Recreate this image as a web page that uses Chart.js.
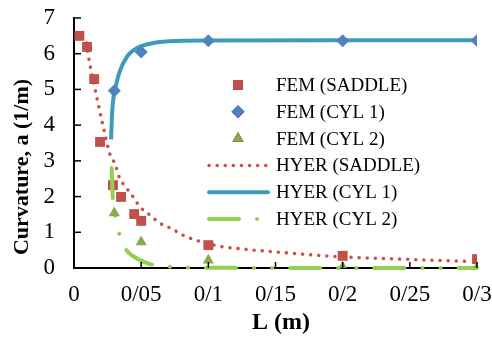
<!DOCTYPE html>
<html>
<head>
<meta charset="utf-8">
<script src="https://cdn.jsdelivr.net/npm/chart.js@4.4.1/dist/chart.umd.min.js"></script>
<style>
  html, body { margin: 0; padding: 0; background: #fff; }
  #wrap { width: 492px; height: 342px; }
</style>
</head>
<body>
<div id="wrap"><canvas id="curvChart" width="492" height="342"></canvas></div>
<script>
// FEM results (markers)
const femSaddleL = [0.004, 0.0097, 0.015, 0.0194, 0.029, 0.035, 0.0448, 0.05, 0.1, 0.2, 0.3];
const femSaddleA = [6.5, 6.19, 5.29, 3.53, 2.32, 1.99, 1.51, 1.32, 0.64, 0.34, 0.25];
const femCyl1L = [0.03, 0.05, 0.1, 0.2, 0.3];
const femCyl1A = [4.96, 6.05, 6.36, 6.36, 6.37];
const femCyl2L = [0.03, 0.05, 0.1, 0.2, 0.3];
const femCyl2A = [1.54, 0.73, 0.22, 0.02, 0.01];

// HYER curves
const hyerSaddleL = [0.0095, 0.0105, 0.0157, 0.0218, 0.0269, 0.0306, 0.0336, 0.0373, 0.042, 0.047, 0.0515, 0.0567, 0.061, 0.0664, 0.0716, 0.077, 0.081, 0.107, 0.126, 0.15, 0.2, 0.25, 0.296];
const hyerSaddleA = [6.3, 6.0, 5.0, 3.95, 3.17, 2.91, 2.55, 2.32, 2.1, 1.82, 1.62, 1.48, 1.34, 1.2, 1.12, 1.01, 0.92, 0.62, 0.53, 0.45, 0.31, 0.24, 0.18];
const hyerCyl1L = [0.0276, 0.0282, 0.029, 0.0306, 0.034, 0.0395, 0.047, 0.059, 0.081, 0.1, 0.2, 0.3];
const hyerCyl1A = [3.6, 4.2, 4.65, 5.0, 5.5, 5.92, 6.16, 6.3, 6.36, 6.37, 6.38, 6.38];
const hyerCyl2L = [0.028, 0.0285, 0.029, 0.031, 0.034, 0.039, 0.044, 0.049, 0.055, 0.06, 0.07, 0.08, 0.1, 0.2, 0.3];
const hyerCyl2A = [2.8, 2.3, 1.9, 1.42, 0.92, 0.5, 0.33, 0.22, 0.13, 0.08, 0.04, 0.02, 0.01, 0.0, 0.0];

// Axis settings
const xMin = 0, xMax = 0.3, xStep = 0.05;
const yMin = 0, yMax = 7, yStep = 1;

const serif = "'Liberation Serif', 'Times New Roman', serif";

function toPoints(xs, ys) {
  return xs.map((x, i) => ({ x: x, y: ys[i] }));
}

// Legend entries
const legendItems = [
  { text: 'FEM (SADDLE)', kind: 'point', style: 'rect', color: '#C0504D', radius: 7 },
  { text: 'FEM (CYL 1)', kind: 'point', style: 'rectRot', color: '#4F81BD', radius: 6.5 },
  { text: 'FEM (CYL 2)', kind: 'point', style: 'triangle', color: '#8DA94E', radius: 6.5 },
  { text: 'HYER (SADDLE)', kind: 'line', color: '#C9504D', width: 3.5, dash: [0.1, 8] },
  { text: 'HYER (CYL 1)', kind: 'line', color: '#3F9BB8', width: 4, dash: [] },
  { text: 'HYER (CYL 2)', kind: 'line', color: '#92D050', width: 4, dash: [30, 18, 0.1, 18, 0.1, 18] }
];

// Draw custom legend, inside ticks and axis titles
const decorPlugin = {
  id: 'decor',
  afterDraw(chart) {
    const ctx = chart.ctx;
    const xs = chart.scales.x;
    const ys = chart.scales.y;
    const area = chart.chartArea;

    // inside tick marks
    ctx.save();
    ctx.strokeStyle = '#000';
    ctx.lineWidth = 1.5;
    ys.ticks.forEach(t => {
      const py = ys.getPixelForValue(t.value);
      ctx.beginPath();
      ctx.moveTo(area.left, py);
      ctx.lineTo(area.left + 7, py);
      ctx.stroke();
    });
    xs.ticks.forEach(t => {
      const px = xs.getPixelForValue(t.value);
      ctx.beginPath();
      ctx.moveTo(px, area.bottom);
      ctx.lineTo(px, area.bottom - 6);
      ctx.stroke();
    });
    ctx.restore();

    // legend
    ctx.save();
    const left = 207, right = 270, mid = 238, textX = 276;
    legendItems.forEach((item, i) => {
      const y = 85 + i * 26.8;
      if (item.kind === 'point') {
        Chart.helpers.drawPoint(ctx, {
          pointStyle: item.style, radius: item.radius, rotation: 0, borderWidth: 0
        }, mid, y);
        ctx.fillStyle = item.color;
        ctx.fill();
      } else {
        ctx.beginPath();
        ctx.strokeStyle = item.color;
        ctx.lineWidth = item.width;
        ctx.lineCap = 'round';
        ctx.setLineDash(item.dash);
        ctx.moveTo(left + 2, y);
        ctx.lineTo(right - 2, y);
        ctx.stroke();
        ctx.setLineDash([]);
      }
      ctx.fillStyle = '#000';
      ctx.font = '19px ' + serif;
      ctx.textAlign = 'left';
      ctx.textBaseline = 'middle';
      ctx.fillText(item.text, textX, y + 1);
    });
    ctx.restore();

    // axis titles
    ctx.save();
    ctx.fillStyle = '#000';
    ctx.font = 'bold 24px ' + serif;
    ctx.textAlign = 'center';
    ctx.textBaseline = 'middle';
    ctx.fillText('L (m)', 281, 323);
    ctx.font = 'bold 22px ' + serif;
    ctx.translate(22, 167);
    ctx.rotate(-Math.PI / 2);
    ctx.fillText('Curvature, a (1/m)', 0, 0);
    ctx.restore();
  }
};

const ctx = document.getElementById('curvChart').getContext('2d');
const curvChart = new Chart(ctx, {
  type: 'scatter',
  data: {
    datasets: [
      {
        label: 'HYER (SADDLE)',
        data: toPoints(hyerSaddleL, hyerSaddleA),
        showLine: true,
        borderColor: '#C9504D',
        borderWidth: 3.5,
        borderDash: [0.1, 8],
        borderCapStyle: 'round',
        cubicInterpolationMode: 'monotone',
        pointRadius: 0,
        order: 5
      },
      {
        label: 'HYER (CYL 1)',
        data: toPoints(hyerCyl1L, hyerCyl1A),
        showLine: true,
        borderColor: '#3F9BB8',
        borderWidth: 4,
        cubicInterpolationMode: 'monotone',
        pointRadius: 0,
        order: 5
      },
      {
        label: 'FEM (SADDLE)',
        data: toPoints(femSaddleL, femSaddleA),
        pointStyle: 'rect',
        pointRadius: 7,
        backgroundColor: '#C0504D',
        borderWidth: 0,
        order: 3
      },
      {
        label: 'FEM (CYL 1)',
        data: toPoints(femCyl1L, femCyl1A),
        pointStyle: 'rectRot',
        pointRadius: 6.5,
        backgroundColor: '#4F81BD',
        borderWidth: 0,
        order: 3
      },
      {
        label: 'HYER (CYL 2)',
        data: toPoints(hyerCyl2L, hyerCyl2A),
        showLine: true,
        borderColor: '#92D050',
        borderWidth: 4,
        borderDash: [30, 18, 0.1, 18, 0.1, 18],
        borderCapStyle: 'round',
        cubicInterpolationMode: 'monotone',
        pointRadius: 0,
        clip: 4,
        order: 2
      },
      {
        label: 'FEM (CYL 2)',
        data: toPoints(femCyl2L, femCyl2A),
        pointStyle: 'triangle',
        pointRadius: 6.5,
        backgroundColor: '#8DA94E',
        borderWidth: 0,
        order: 1
      }
    ]
  },
  options: {
    responsive: false,
    animation: false,
    layout: { padding: { top: 18, right: 15, left: 0, bottom: 0 } },
    plugins: {
      legend: { display: false },
      tooltip: { enabled: false }
    },
    scales: {
      x: {
        type: 'linear',
        min: xMin,
        max: xMax,
        grid: { display: false },
        border: { display: true, color: '#000', width: 2 },
        ticks: {
          stepSize: xStep,
          color: '#000',
          padding: 5,
          maxRotation: 0,
          font: { family: serif, size: 23 },
          callback: v => Number(v.toFixed(2)).toString().replace('.', '/')
        },
        afterFit: s => { s.height = 74; s.paddingLeft = 0; s.paddingRight = 0; }
      },
      y: {
        type: 'linear',
        min: yMin,
        max: yMax,
        grid: { display: false },
        border: { display: true, color: '#000', width: 2 },
        ticks: {
          stepSize: yStep,
          color: '#000',
          padding: 11,
          font: { family: serif, size: 23 }
        },
        afterFit: s => { s.width = 74; s.paddingTop = 0; s.paddingBottom = 0; }
      }
    }
  },
  plugins: [decorPlugin]
});
</script>
</body>
</html>
